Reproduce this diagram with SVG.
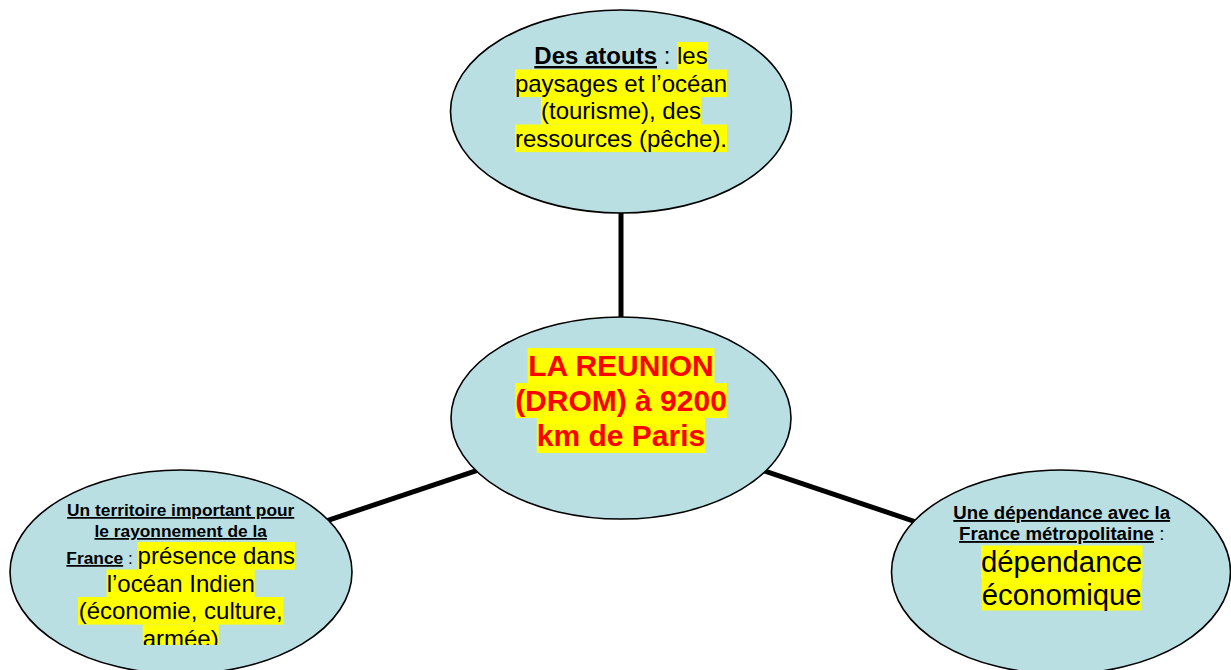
<svg xmlns="http://www.w3.org/2000/svg" width="1231" height="670" viewBox="0 0 1231 670">
<style>
.node{fill:#B9DFE3;stroke:#000;stroke-width:1.6}
.conn{stroke:#000;stroke-width:5;fill:none}
.hl{fill:#FFFF00}
text{font-family:"Liberation Sans",Arial,sans-serif;fill:#000}
.b{font-weight:bold;text-decoration:underline}
.c{font-weight:bold;fill:#FF0000;font-size:30px}
</style>
<defs>
<clipPath id="clipL"><rect x="0" y="0" width="400" height="645"/></clipPath>
</defs>
<rect x="0" y="0" width="1231" height="670" fill="#FFFFFF"/>
<g id="connectors">
<line class="conn" x1="621" y1="205" x2="621" y2="325"/>
<line class="conn" x1="316" y1="524.3" x2="484" y2="468.2"/>
<line class="conn" x1="760" y1="469.4" x2="925" y2="525"/>
</g>
<g id="node-atouts">
<ellipse class="node" cx="621" cy="111.5" rx="170.5" ry="101.5"/>
<rect class="hl" x="677.3" y="42" width="30.7" height="27.6"/>
<rect class="hl" x="515" y="69.5" width="212.1" height="27.6"/>
<rect class="hl" x="541" y="97" width="160" height="27.6"/>
<rect class="hl" x="515" y="124.5" width="212.1" height="27.6"/>
<text x="621" y="64" text-anchor="middle" font-size="24"><tspan class="b">Des atouts</tspan> : les</text>
<text x="621" y="91.5" text-anchor="middle" font-size="24">paysages et l’océan</text>
<text x="621" y="119" text-anchor="middle" font-size="24">(tourisme), des</text>
<text x="621" y="146.5" text-anchor="middle" font-size="24">ressources (pêche).</text>
</g>
<g id="node-reunion">
<ellipse class="node" cx="621" cy="418" rx="170" ry="101"/>
<rect class="hl" x="527.7" y="348" width="186.7" height="35"/>
<rect class="hl" x="515.2" y="383" width="211.7" height="35"/>
<rect class="hl" x="536.8" y="418" width="168.4" height="35"/>
<text class="c" x="621" y="376" text-anchor="middle">LA REUNION</text>
<text class="c" x="621" y="411" text-anchor="middle">(DROM) à 9200</text>
<text class="c" x="621" y="446" text-anchor="middle">km de Paris</text>
</g>
<g id="node-territoire">
<ellipse class="node" cx="181" cy="572" rx="171" ry="102"/>
<g clip-path="url(#clipL)">
<rect class="hl" x="137.7" y="542" width="157.3" height="27.6"/>
<rect class="hl" x="106.6" y="569.5" width="148.1" height="27.6"/>
<rect class="hl" x="78" y="597" width="205.4" height="27.6"/>
<rect class="hl" x="142.7" y="624.5" width="76" height="27.6"/>
<text x="180.7" y="516" text-anchor="middle" font-size="17.33" class="b">Un territoire important pour</text>
<text x="180.7" y="537" text-anchor="middle" font-size="17.33" class="b">le rayonnement de la</text>
<text x="180.7" y="564" text-anchor="middle" font-size="17.33"><tspan class="b">France</tspan> : <tspan font-size="24">présence dans</tspan></text>
<text x="180.7" y="591.5" text-anchor="middle" font-size="24">l’océan Indien</text>
<text x="180.7" y="619" text-anchor="middle" font-size="24">(économie, culture,</text>
<text x="180.7" y="646.5" text-anchor="middle" font-size="24">armée)</text>
</g>
</g>
<g id="node-dependance">
<ellipse class="node" cx="1061" cy="572" rx="169.5" ry="102"/>
<rect class="hl" x="981" y="545.5" width="161.4" height="32.5"/>
<rect class="hl" x="981.8" y="578" width="159.8" height="32.5"/>
<text x="1061.7" y="519" text-anchor="middle" font-size="18.67" class="b">Une dépendance avec la</text>
<text x="1061.7" y="540" text-anchor="middle" font-size="18.67"><tspan class="b">France métropolitaine</tspan> :</text>
<text x="1061.7" y="572" text-anchor="middle" font-size="29.33">dépendance</text>
<text x="1061.7" y="604.5" text-anchor="middle" font-size="29.33">économique</text>
</g>
</svg>
